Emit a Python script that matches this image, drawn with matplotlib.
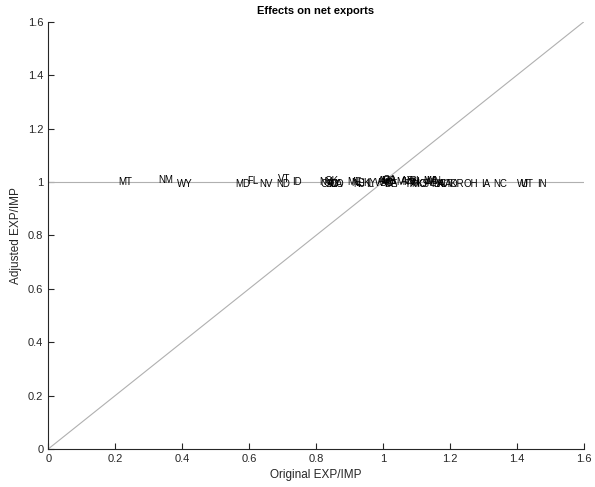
import matplotlib.pyplot as plt

plt.rcParams['font.family'] = ['Liberation Sans', 'DejaVu Sans']

states = ['MT', 'NM', 'WY', 'MD', 'FL', 'NV', 'ND', 'VT', 'ID',
          'NY', 'CA', 'OK', 'SD', 'WA', 'CO', 'ME', 'NE', 'NJ', 'KY', 'IL',
          'WV', 'SC', 'AR', 'MS', 'DE', 'GA', 'VA', 'MI', 'AZ', 'TX', 'NH',
          'TN', 'RI', 'MO', 'KS', 'MA', 'MN', 'AL', 'PA', 'LA', 'HI', 'CT',
          'AK', 'OR', 'OH', 'IA', 'NC', 'WI', 'UT', 'IN']
orig = [0.21, 0.33, 0.385, 0.56, 0.595, 0.63, 0.68, 0.685, 0.73,
        0.81, 0.815, 0.825, 0.83, 0.835, 0.84, 0.895, 0.905, 0.91, 0.94, 0.95,
        0.975, 0.99, 0.985, 0.995, 1.005, 1.0, 1.01, 1.04, 1.055, 1.065, 1.07,
        1.075, 1.08, 1.085, 1.1, 1.12, 1.13, 1.125, 1.145, 1.15, 1.16, 1.17,
        1.185, 1.2, 1.24, 1.295, 1.33, 1.40, 1.41, 1.46]
adj = [1.0, 1.007, 0.992, 0.994, 1.005, 0.994, 0.994, 1.01, 1.0,
       1.0, 0.992, 1.005, 0.992, 0.992, 0.992, 1.0, 0.997, 0.992, 0.997, 0.994,
       0.997, 0.997, 1.005, 1.005, 0.992, 1.008, 0.997, 1.0, 1.003, 0.992, 1.0,
       0.997, 1.003, 0.994, 0.994, 1.005, 1.003, 0.997, 0.994, 0.994, 0.994, 0.994,
       0.994, 0.994, 0.994, 0.994, 0.994, 0.994, 0.994, 0.994]

fig = plt.figure(figsize=(5.95, 4.87), dpi=100)
ax = fig.add_axes([0.081, 0.078, 0.9, 0.877])

ax.plot([0, 1.6], [0, 1.6], color='#b0b0b0', lw=0.8)
ax.axhline(1, color='#b0b0b0', lw=0.8)
for s, x, y in zip(states, orig, adj):
    ax.text(x, y, s, fontsize=7, ha='left', va='center')

ticks = [0, 0.2, 0.4, 0.6, 0.8, 1, 1.2, 1.4, 1.6]
tick_labels = ['0', '0.2', '0.4', '0.6', '0.8', '1', '1.2', '1.4', '1.6']
ax.set_xlim(0, 1.6)
ax.set_ylim(0, 1.6)
ax.set_xticks(ticks)
ax.set_yticks(ticks)
ax.set_xticklabels(tick_labels)
ax.set_yticklabels(tick_labels)
ax.tick_params(direction='in', length=4, labelsize=8, colors='#262626', width=0.8)
ax.spines['top'].set_visible(False)
ax.spines['right'].set_visible(False)
for sp in ['left', 'bottom']:
    ax.spines[sp].set_color('#262626')
    ax.spines[sp].set_linewidth(0.8)
ax.set_xlabel('Original EXP/IMP', fontsize=8.5, color='#262626')
ax.set_ylabel('Adjusted EXP/IMP', fontsize=8.5, color='#262626')
ax.set_title('Effects on net exports', fontsize=8, fontweight='bold')

fig.savefig('out.png')
